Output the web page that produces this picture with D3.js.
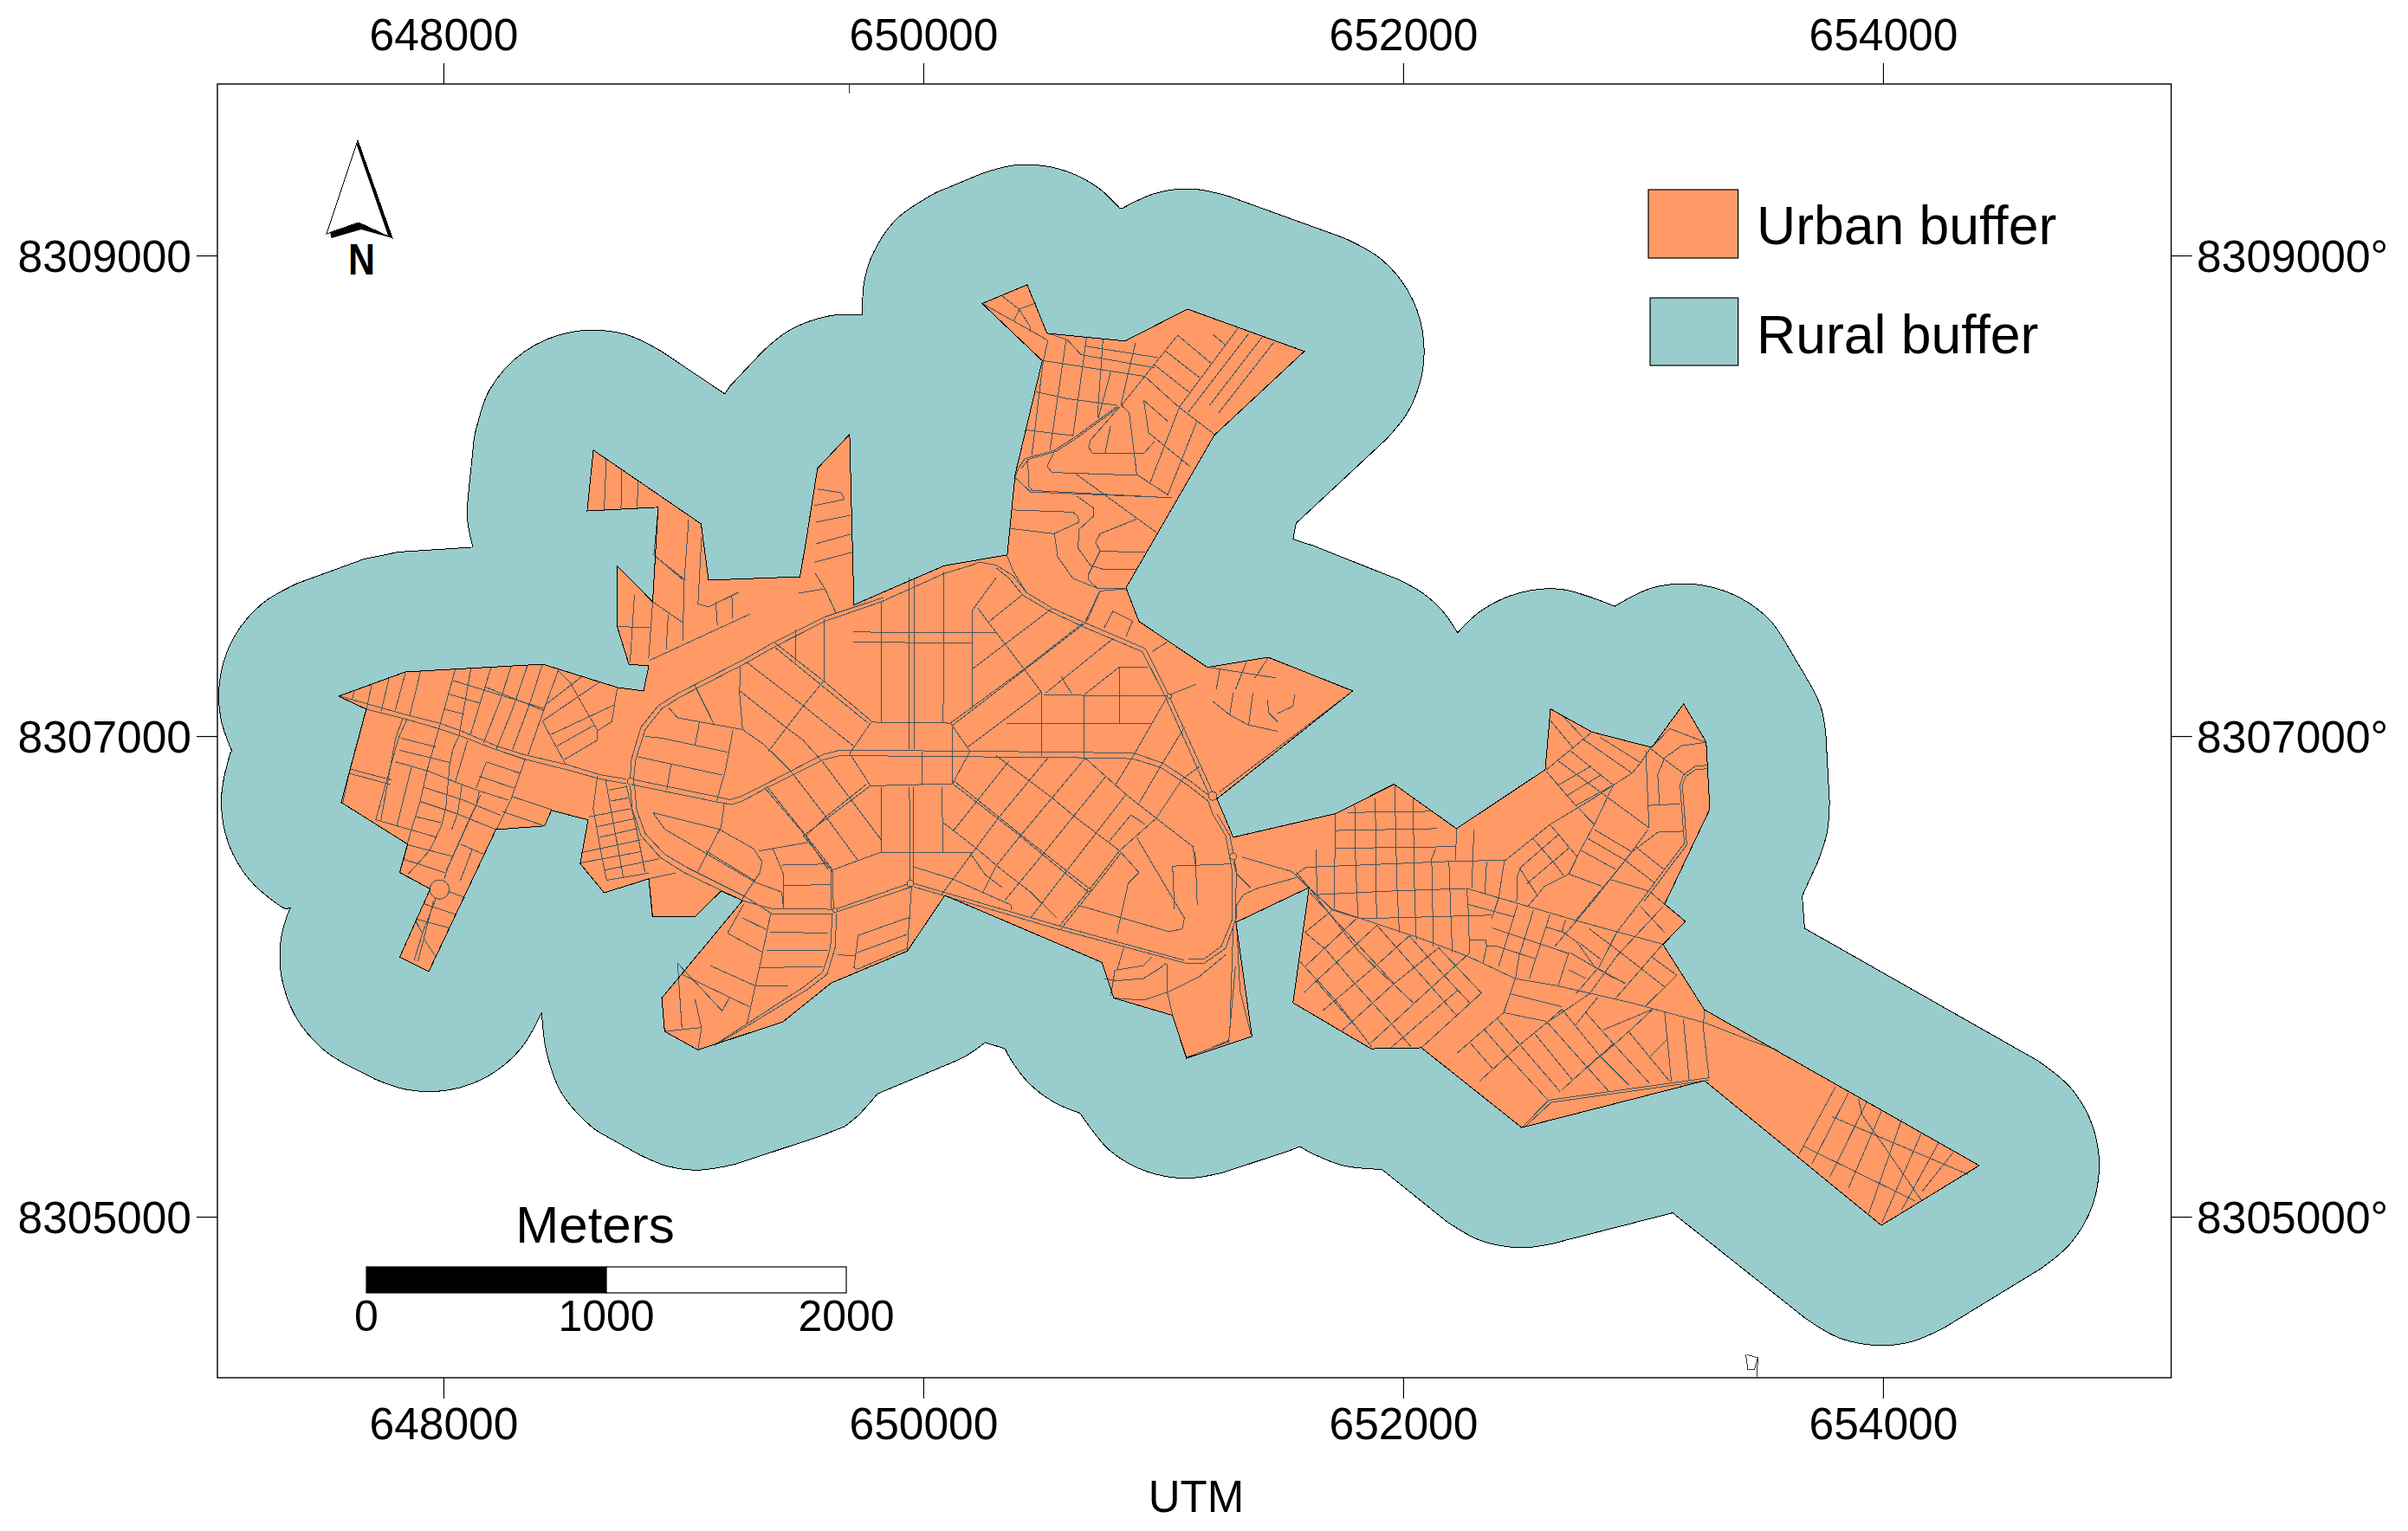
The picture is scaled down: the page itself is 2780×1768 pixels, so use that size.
<!DOCTYPE html>
<html>
<head>
<meta charset="utf-8">
<title>Urban and rural buffer map</title>
<script src="https://d3js.org/d3.v7.min.js"></script>
<style>
html, body { margin: 0; padding: 0; background: #fff; }
svg { display: block; }
text { font-family: "Liberation Sans", Arial, sans-serif; fill: #000; }
</style>
</head>
<body>
<svg id="map" width="2780" height="1768"></svg>
<script>
// all map points are [metres east of eastingBase, metres north of northingBase]
var eastingBase = 647000;
var northingBase = 8304000;

var eastingTicks = [648000, 650000, 652000, 654000];
var northingTicks = [8305000, 8307000, 8309000];
var scaleBarStops = [0, 1000, 2000];
var legendLabels = ["Urban buffer", "Rural buffer"];

var urbanOutline = [[563,3166],[841,3267],[1415,3299],[1726,3202],[1834,3188],[1856,3292],[1773,3299],[1724,3456],[1724,3709],[1872,3559],[1895,3952],[1599,3937],[1625,4190],[2074,3883],[2105,3649],[2486,3663],[2514,3829],[2559,4114],[2693,4256],[2711,3546],[3087,3709],[3350,3754],[3383,4089],[3496,4562],[3245,4800],[3433,4878],[3516,4676],[3841,4644],[4101,4777],[4588,4601],[4213,4252],[3845,3617],[3899,3477],[4184,3286],[4437,3328],[4790,3188],[4224,2739],[4292,2579],[4717,2677],[4962,2800],[5222,2615],[5592,2860],[5614,3113],[5787,3017],[6036,2953],[6169,3134],[6263,2975],[6278,2696],[6090,2301],[6176,2229],[6083,2133],[6256,1861],[7401,1213],[6993,964],[6256,1566],[5494,1371],[5076,1703],[4866,1699],[4541,1890],[4608,2370],[4303,2225],[4370,1750],[4097,1660],[4038,1838],[3794,1910],[3745,2058],[3090,2337],[2933,2105],[2617,1973],[2415,1811],[2061,1694],[1922,1771],[1910,1910],[2247,2316],[2157,2355],[2049,2249],[1872,2249],[1856,2406],[1670,2348],[1570,2469],[1603,2651],[1450,2691],[1422,2626],[1219,2611],[939,2020],[818,2081],[945,2364],[818,2432],[851,2550],[574,2724],[678,3112]];

// rural buffer edge: each run is one rounded stretch, straight edges lie between runs
var ruralBufferRuns = [
  [[118,2939],[71,3079],[71,3253],[130,3416],[242,3549],[392,3636]],
  [[670,3737],[813,3766]],
  [[1123,3786],[1101,3893],[1102,3988]],
  [[1128,4241],[1192,4440],[1338,4600],[1538,4682],[1754,4673],[1907,4602]],
  [[2173,4424],[2195,4457]],
  [[2329,4599],[2443,4689],[2606,4748],[2745,4753]],
  [[2747,4756],[2753,4887],[2792,5011],[2891,5154],[3054,5262]],
  [[3242,5340],[3389,5376],[3562,5361],[3720,5288],[3819,5196]],
  [[3829,5196],[3972,5260],[4118,5277],[4271,5247]],
  [[4758,5071],[4909,4984],[5021,4851],[5080,4688],[5080,4514],[5021,4351],[4929,4235]],
  [[4554,3886],[4541,3819]],
  [[4541,3819],[4623,3793]],
  [[4976,3653],[5077,3598],[5162,3523],[5227,3430]],
  [[5227,3430],[5327,3523],[5485,3596],[5658,3611],[5857,3550]],
  [[5882,3540],[6040,3617],[6213,3632],[6380,3587],[6523,3488],[6594,3389]],
  [[6688,3230],[6741,3121],[6762,3002]],
  [[6777,2723],[6767,2600],[6730,2481]],
  [[6663,2335],[6673,2200]],
  [[7647,1648],[7784,1534],[7871,1384],[7901,1213],[7871,1042],[7784,892],[7661,786]],
  [[7253,537],[7122,481],[6993,464],[6822,494],[6677,577]],
  [[6123,1016],[5618,887]],
  [[5618,887],[5494,871],[5323,901],[5183,979]],
  [[4910,1198],[4866,1199],[4745,1214],[4616,1266],[4570,1292]],
  [[4570,1292],[4526,1275]],
  [[4253,1185],[4097,1160],[3926,1190],[3776,1277],[3653,1431]],
  [[3653,1431],[3544,1477],[3440,1556],[3361,1660],[3341,1699]],
  [[3258,1725],[3183,1672],[3126,1644]],
  [[2810,1512],[2728,1421],[2671,1375]],
  [[2671,1375],[2572,1336]],
  [[2218,1219],[2061,1194],[1932,1211],[1819,1257]],
  [[1680,1334],[1614,1377],[1489,1521],[1430,1684],[1410,1845]],
  [[1409,1849],[1322,1699],[1189,1587],[1026,1528],[852,1528],[714,1573]],
  [[593,1634],[497,1698],[385,1831],[326,1994],[320,2125],[335,2210],[362,2286]],
  [[343,2280],[308,2301],[191,2403],[104,2553],[74,2724],[91,2853]],
  [[112,2930],[118,2939]]
];

var westRoads = [
  [[562,3168],[836,3091],[980,3055],[1065,3025],[1221,2959],[1335,2923],[1516,2881],[1654,2839],[1762,2821]],
  [[677,3112],[836,3073],[980,3031],[1065,3003],[1221,2943],[1335,2905],[1516,2860],[1654,2821],[1762,2802]],
  [[629,3190],[619,3151]],
  [[701,3214],[680,3115],[607,2845],[581,2724]],
  [[773,3238],[740,3103]],
  [[842,3265],[800,3109]],
  [[905,3271],[860,3087]],
  [[1049,3277],[986,3049],[932,2857],[902,2724],[866,2610],[818,2436]],
  [[1115,3283],[1065,3001],[1040,2947],[1026,2881],[1010,2700],[992,2628],[944,2526],[896,2472],[854,2427]],
  [[1199,3287],[1113,3007]],
  [[1101,2983],[1049,2808]],
  [[1283,3291],[1233,3139],[1167,2971]],
  [[1179,2893],[1137,2785]],
  [[1351,3295],[1287,3109],[1221,2947]],
  [[1413,3299],[1359,3133],[1287,2941]],
  [[1480,3277],[1425,3127],[1353,2923]],
  [[1341,2905],[1281,2736],[1221,2610]],
  [[1149,2767],[1137,2713],[1016,2448],[1004,2406]],
  [[1155,2754],[1107,2652],[1010,2436]],
  [[968,2322],[914,2184],[878,2068]],
  [[959,2316],[894,2064]],
  [[1040,3231],[1419,3115]],
  [[1173,3205],[1419,3106]],
  [[1022,3175],[1155,3136]],
  [[1007,3111],[1086,3091]],
  [[824,2991],[968,2955]],
  [[818,2941],[1028,2890]],
  [[800,2893],[938,2854],[1052,2808],[1149,2772],[1269,2734]],
  [[1149,2833],[1293,2784]],
  [[1179,2893],[1320,2845]],
  [[611,2863],[782,2818]],
  [[607,2845],[778,2799]],
  [[918,2787],[1077,2736],[1239,2670]],
  [[906,2727],[1059,2676],[1221,2610]],
  [[886,2664],[990,2640]],
  [[718,2652],[968,2580]],
  [[854,2547],[1040,2499]],
  [[836,2487],[1010,2430]],
  [[1071,2550],[1170,2508]],
  [[1287,2748],[1450,2694]],
  [[1245,2686],[1422,2626]],
  [[848,3070],[812,2989],[718,2652]],
  [[830,3073],[800,2989],[740,2652]],
  [[866,2869],[806,2628]],
  [[1119,2526],[1071,2400]],
  [[818,2433],[944,2364]],
  [[1026,2352],[1089,2328]],
  [[920,2302],[1049,2258]],
  [[890,2238],[1022,2202]],
  [[884,2232],[914,2174]],
  [[920,2154],[968,2082]],
  [[1077,2797],[1059,2676],[1034,2610]],
  [[1480,3271],[1528,3223],[1582,3127],[1642,3025],[1642,2983],[1504,2902]],
  [[1413,3061],[1510,2881]],
  [[1425,3130],[1576,3247]],
  [[1413,3063],[1648,3223]],
  [[1724,3199],[1702,3061],[1642,3022]],
  [[1449,3007],[1712,3130]],
  [[1474,2959],[1624,3043]],
  [[1642,2833],[1624,2700],[1654,2532],[1680,2400]],
  [[1676,2815],[1708,2640],[1750,2412]],
  [[1762,2796],[1804,2616],[1840,2436]],
  [[1688,2775],[1762,2790]],
  [[1696,2730],[1768,2742]],
  [[1606,2664],[1780,2698]],
  [[1636,2622],[1804,2658]],
  [[1648,2578],[1810,2616]],
  [[1570,2514],[1822,2568]],
  [[1570,2472],[1828,2520]],
  [[1672,2442],[1901,2490]],
  [[1680,2400],[1856,2430]],
  [[1852,2406],[1967,2430]],
  [[1856,2406],[1870,2250]],
  [[1724,3456],[1859,3451]],
  [[1796,3586],[1778,3306]],
  [[1872,3559],[1868,3496],[1855,3324]],
  [[1937,3505],[1928,3360]],
  [[2003,3649],[1998,3397]],
  [[2076,3829],[2061,3550],[2106,3537],[2229,3598]],
  [[1882,3748],[2009,3649]],
  [[1872,3559],[1998,3472]],
  [[2135,3559],[2142,3460]],
  [[2202,3586],[2206,3490]],
  [[1859,3315],[2278,3508]],
  [[2482,3595],[2590,3613],[2635,3514]],
  [[2550,3676],[2590,3613]],
  [[2559,4028],[2657,4013],[2671,3985],[2545,3959]],
  [[2552,3890],[2697,3919]],
  [[2552,3800],[2697,3840]],
  [[2545,3723],[2704,3765]],
  [[1679,4154],[1670,3942]],
  [[1744,4110],[1740,3946]],
  [[1812,4063],[1807,3948]],
  [[1895,3948],[1877,3754],[2000,3649]],
  [[2022,3901],[2004,3649]]
];

var centreRoads = [
  [[1778,2811],[1783,2901],[1823,3036],[1895,3126],[1976,3177],[2256,3321],[2373,3388],[2590,3496],[2834,3577]],
  [[1792,2811],[1801,2901],[1841,3027],[1910,3114],[1985,3162],[2265,3306],[2382,3373],[2590,3478],[2825,3559]],
  [[1778,2802],[1787,2694],[1823,2586],[1904,2495],[2003,2432],[2247,2315],[2364,2283],[2626,2279]],
  [[1796,2802],[1805,2694],[1841,2595],[1922,2508],[2021,2450],[2256,2333],[2368,2261],[2626,2261]],
  [[1787,2820],[2139,2748],[2193,2735],[2238,2748],[2346,2802],[2581,2923],[2653,2942],[3646,2933],[3881,2928],[3998,2888],[4115,2811],[4196,2748]],
  [[1787,2798],[2139,2726],[2202,2715],[2247,2730],[2346,2784],[2581,2901],[2653,2919],[3646,2910],[3872,2906],[3989,2870],[4106,2793],[4187,2730]],
  [[2783,3058],[3113,3054],[3195,2937],[3122,2802],[2780,2793],[2693,2928],[2783,3058]],
  [[2942,3658],[2942,2946]],
  [[2964,3658],[2964,2946]],
  [[2942,2787],[2946,2396]],
  [[2960,2787],[2960,2396]],
  [[2996,2937],[2996,2793]],
  [[3122,3036],[3122,2802]],
  [[2783,3063],[2590,3225],[2382,3388]],
  [[2770,3054],[2382,3369]],
  [[2780,2793],[2599,2658],[2500,2586]],
  [[2761,2798],[2590,2661],[2509,2582]],
  [[2500,2586],[2617,2441],[2617,2279]],
  [[2337,2787],[2509,2586],[2603,2445]],
  [[2346,2793],[2518,2577],[2621,2445],[2626,2279]],
  [[3113,3054],[3420,3279],[3664,3469]],
  [[3122,3045],[3673,3469]],
  [[3122,2802],[3402,2586],[3682,2355]],
  [[3131,2811],[3411,2586],[3691,2366]],
  [[3186,2955],[3492,3184]],
  [[3375,3667],[3429,3598],[3538,3532],[3673,3472],[3926,3364],[4025,3166],[4206,2766]],
  [[3357,3658],[3415,3586],[3529,3519],[3664,3456],[3913,3351],[4011,3159],[4191,2757]],
  [[3231,3724],[3303,3712],[3375,3667]],
  [[3303,3700],[3357,3658]],
  [[2825,3559],[3086,3676],[3204,3712],[3231,3724]],
  [[3303,3658],[3204,3523],[3204,3117]],
  [[2825,3559],[2825,3058]],
  [[3086,3685],[3083,3054]],
  [[2707,3433],[3303,3429]],
  [[2707,3391],[3204,3387]],
  [[2586,3487],[2586,3225]],
  [[2467,3442],[2467,3306]],
  [[2238,3288],[2234,3180],[2247,3027]],
  [[2265,3306],[2500,3126],[2707,2960]],
  [[2234,3189],[2428,3036],[2500,2982],[2581,2892],[2825,2568]],
  [[2581,3225],[2500,3126],[2355,2937]],
  [[2247,3027],[2337,2964],[2446,2856],[2599,2658],[2725,2486]],
  [[1940,3117],[1976,3076],[2247,3027]],
  [[2045,3216],[2130,3045]],
  [[1841,2999],[1913,2991],[2184,2933]],
  [[1805,2915],[2162,2838]],
  [[2207,3027],[2175,2856],[2139,2730]],
  [[2067,3058],[2049,2964]],
  [[1949,2883],[1931,2775]],
  [[2171,2721],[2157,2622],[2058,2432]],
  [[1873,2681],[2148,2613],[2292,2532],[2328,2477],[2319,2432],[2247,2324]],
  [[1873,2681],[1922,2613],[2301,2391],[2410,2351],[2418,2279]],
  [[2316,2522],[2527,2559]],
  [[2373,2532],[2418,2423],[2418,2279]],
  [[2410,2463],[2608,2468]],
  [[2418,2378],[2613,2382]],
  [[2094,2522],[2301,2396]],
  [[2617,2441],[2816,2514],[3205,2514]],
  [[2825,2787],[2825,2514]],
  [[3077,2787],[3083,2514]],
  [[2632,2279],[2942,2387]],
  [[2639,2268],[2951,2373]],
  [[2960,2387],[3556,2213],[4088,2067]],
  [[2960,2373],[3556,2198],[4097,2054],[4170,2054],[4260,2117],[4301,2234],[4305,2441],[4278,2586],[4224,2676]],
  [[4106,2072],[4170,2072],[4242,2126],[4287,2234],[4287,2441],[4260,2586],[4206,2676],[4187,2730]],
  [[2960,2456],[3123,2405],[3366,2297],[3366,2276]],
  [[2621,2261],[2613,2117],[2581,2018],[2500,1955],[2139,1721]],
  [[2639,2261],[2632,2117],[2599,2009],[2518,1946],[2130,1712]],
  [[2364,2261],[2319,2045],[2265,1802]],
  [[2252,2301],[2184,2180]],
  [[2247,2243],[2350,2193]],
  [[2184,2180],[2332,2099]],
  [[2361,2185],[2603,2180]],
  [[2346,2108],[2603,2108]],
  [[2319,2036],[2581,2041]],
  [[2112,2045],[2301,1960],[2437,1960]],
  [[1994,2009],[2274,1874]],
  [[1976,2055],[2162,1856],[2193,1915]],
  [[1976,2055],[1994,1784]],
  [[1922,1771],[2072,1787]],
  [[2049,1904],[2076,1784],[2061,1694]],
  [[2729,2171],[2933,2243],[2951,2243]],
  [[2729,2171],[2711,2036],[2725,2030],[2933,2117]],
  [[2725,2099],[2933,2175]],
  [[2933,2108],[2951,2373]],
  [[2644,2090],[2716,2085]],
  [[3077,2342],[3312,2658],[3520,2910]],
  [[3303,2459],[3402,2582],[3673,2906]],
  [[3339,2315],[3498,2508],[3758,2829]],
  [[3447,2243],[3592,2432],[3845,2757]],
  [[3565,2207],[3691,2360],[3818,2523]],
  [[3574,2198],[3700,2355],[3827,2517]],
  [[3126,2607],[3357,2896]],
  [[3303,2919],[3447,2810],[3538,2742],[3628,2667],[3818,2523],[3899,2432]],
  [[3673,2910],[3845,2757],[3971,2658]],
  [[3083,2640],[3222,2532],[3330,2441],[3447,2351],[3556,2243]],
  [[3195,2514],[3258,2423],[3330,2369]],
  [[3303,2459],[3249,2351]],
  [[4016,3162],[3881,2928],[3799,2793]],
  [[4088,3036],[3989,2874],[3899,2721]],
  [[4151,2874],[4079,2820],[3971,2658],[3818,2523]],
  [[3772,2559],[3866,2672],[3926,2631]],
  [[3890,2577],[4088,2243],[4079,2198],[4025,2186],[3642,2297]],
  [[3899,2432],[3854,2387],[3808,2180]],
  [[4039,2459],[4287,2468]],
  [[4039,2459],[4047,2279]],
  [[4133,2522],[4142,2297]],
  [[3971,2658],[4124,2540],[4133,2468]],
  [[3502,3171],[4016,3166]],
  [[3348,3054],[3953,3054]],
  [[3492,3184],[3492,2919]],
  [[3669,3171],[3669,2906]],
  [[3818,3288],[3818,3054]],
  [[3818,3288],[3935,3288]],
  [[3669,3171],[3818,3288]],
  [[3574,3247],[3619,3177]],
  [[3511,3180],[3790,3405]],
  [[3276,3478],[3411,3586]],
  [[3204,3279],[3538,3532]],
  [[3227,3532],[3420,3279],[3492,3184]],
  [[3754,3451],[3790,3519],[3872,3478],[3845,3414]],
  [[3673,3472],[3736,3604],[3845,3613]],
  [[3953,3351],[4016,3391]],
  [[4137,3216],[4025,3171]],
  [[4016,2054],[4016,1937],[4039,1838]],
  [[4025,1937],[4151,2000],[4260,2090]],
  [[3790,1910],[3917,1901],[4025,1937]],
  [[3835,2117],[3808,2027],[3917,2045],[3953,2081]],
  [[3808,1982],[3917,1991],[3989,2036],[4011,2054]],
  [[3799,2027],[3781,1919]],
  [[3754,1991],[3808,1982]]
];

var northRoads = [
  [[3246,4800],[3516,4649]],
  [[3326,4833],[3400,4776],[3375,4725]],
  [[3399,4776],[3447,4701],[3447,4683]],
  [[3400,4776],[3471,4803]],
  [[3520,4676],[3600,4649],[3657,4587]],
  [[3595,4647],[3528,4190]],
  [[3681,4661],[3624,4250]],
  [[3749,4653],[3726,4328]],
  [[3884,4635],[3861,4539],[3823,4376]],
  [[3520,4647],[3500,4563],[3452,4166]],
  [[3495,4563],[3923,4497],[4060,4668]],
  [[3673,4623],[3979,4575]],
  [[3657,4587],[3963,4533]],
  [[3468,4433],[3600,4404],[3810,4376]],
  [[3781,4515],[3729,4322]],
  [[3428,4274],[3624,4250]],
  [[4060,4668],[4200,4551]],
  [[4011,4601],[4152,4491]],
  [[3963,4545],[4108,4431]],
  [[3923,4497],[4064,4370],[4213,4256]],
  [[3919,4397],[4019,4310]],
  [[3919,4397],[3939,4262],[4113,4121]],
  [[3923,4497],[3826,4376],[3858,4346],[3890,4088],[4019,4004]],
  [[3818,4370],[3697,4232],[3689,4202],[3705,4176],[3919,4176],[3963,4226]],
  [[3781,4292],[3757,4176]],
  [[4310,4695],[4068,4370],[3947,4058]],
  [[4358,4677],[4103,4346]],
  [[4140,4310],[4019,4004]],
  [[4411,4659],[4193,4376]],
  [[4463,4641],[4232,4346]],
  [[4205,4673],[4258,4629]],
  [[3810,4373],[3632,4244],[3544,4188],[3423,4154],[3399,4118],[3383,4082]],
  [[3813,4368],[3636,4238],[3552,4184],[3439,4152],[3407,4112]],
  [[3549,4188],[3516,4124],[3536,4097],[3895,4085]],
  [[3436,4152],[3439,4040],[3455,4022],[4027,3992]],
  [[3383,4076],[3447,4016],[4035,3992]],
  [[3632,4094],[3971,3848]],
  [[3375,3941],[3624,3932],[3645,3914],[3649,3890],[3544,3842],[3362,3864]],
  [[3641,3998],[3708,3950],[3708,3914],[3649,3860],[3645,3782],[3697,3710],[3758,3692],[3887,3692]],
  [[3547,3842],[3560,3746],[3624,3656],[3729,3614],[3845,3616]],
  [[3887,3902],[3737,3842],[3718,3806],[3737,3770],[3926,3764]],
  [[3737,3770],[3689,3674],[3689,3650],[3726,3614]],
  [[3737,3604],[3681,3476]],
  [[3347,3756],[3375,3686],[3431,3596]]
];

var eastRoads = [
  [[4206,3145],[4277,3088],[4356,3046],[4477,3020]],
  [[4292,3181],[4277,3088]],
  [[4374,3181],[4356,3046]],
  [[4434,3152],[4441,3095],[4477,3060]],
  [[4548,3174],[4541,3124],[4477,3095]],
  [[4184,3287],[4471,3242]],
  [[4237,3280],[4221,3194]],
  [[4347,3308],[4301,3194]],
  [[4439,3328],[4382,3242]],
  [[4235,2768],[4734,3145]],
  [[4327,2497],[4534,2437],[4563,2411],[4606,2369],[4705,2280],[5062,2162],[5269,2084],[5469,1990],[5633,1963],[5947,1891],[6261,1806],[6443,1735],[6567,1691]],
  [[4556,2433],[4608,2369],[4705,2276],[4812,2243]],
  [[4556,2411],[4399,2369],[4334,2340],[4306,2297],[4303,2226]],
  [[4292,2483],[4306,2426],[4363,2369]],
  [[4548,2419],[4594,2454],[5183,2478],[5390,2483],[5426,2483]],
  [[4637,2528],[4641,2340]],
  [[4717,2675],[4713,2283]],
  [[4798,2711],[4802,2469],[4812,2241]],
  [[4884,2739],[4888,2312],[4891,2240]],
  [[4965,2799],[4974,2383],[4984,2183]],
  [[5041,2746],[5048,2326],[5055,2155]],
  [[5119,2483],[5126,2126]],
  [[5136,2533],[5116,2483]],
  [[5191,2476],[5198,2269],[5205,2098]],
  [[5222,2614],[5219,2483]],
  [[5295,2611],[5286,2369]],
  [[5265,2369],[5273,2255],[5276,2098],[5262,2084]],
  [[4717,2607],[5141,2615]],
  [[4717,2533],[5219,2540]],
  [[4770,2682],[5119,2687]],
  [[4641,2340],[4920,2354],[5262,2366]],
  [[4820,2240],[5369,2255]],
  [[5269,2300],[5462,2248]],
  [[5265,2366],[5719,2233],[6082,2134]],
  [[5276,2152],[5345,2152],[5348,2126],[5390,2126],[5554,2072]],
  [[5348,2126],[5333,2055]],
  [[5597,2205],[5669,2183],[5726,2141],[5797,2041],[5925,1970]],
  [[5373,2201],[5690,2095]],
  [[5398,2326],[5369,2240]],
  [[5422,2483],[5398,2326]],
  [[5348,2476],[5340,2340]],
  [[5490,2454],[5476,2419],[5473,2312]],
  [[5543,2276],[5483,2084],[5469,1996],[5419,1849]],
  [[5476,2297],[5398,2041]],
  [[5612,2258],[5526,1991]],
  [[5676,2233],[5662,2186]],
  [[5690,2098],[5647,1963]],
  [[5690,2027],[5761,1991]],
  [[5612,2632],[5426,2483]],
  [[5876,2796],[5790,2739],[5612,2632]],
  [[5876,2796],[5797,2632],[5747,2540],[5690,2426],[5590,2376],[5519,2290]],
  [[5876,2796],[5954,2846],[5990,2889],[6033,2953]],
  [[5612,2632],[5726,2497]],
  [[5540,2575],[5633,2468],[5669,2419]],
  [[5483,2454],[5562,2333]],
  [[5490,2454],[5647,2590]],
  [[5512,2383],[5690,2533]],
  [[5787,3017],[5597,2860]],
  [[5662,3088],[5747,2996]],
  [[5612,3067],[5704,2956]],
  [[5747,2989],[5954,2846]],
  [[5697,2939],[5876,2796]],
  [[5819,2996],[5990,2889]],
  [[5647,2896],[6025,2618]],
  [[5597,2853],[5719,2711],[5797,2632]],
  [[5647,2796],[5783,2875]],
  [[5683,2753],[5826,2839]],
  [[5719,2711],[5876,2796]],
  [[6011,2939],[6025,2618]],
  [[6033,2946],[6175,2839]],
  [[6111,3031],[6261,2974]],
  [[6111,3031],[6035,2953]],
  [[6261,2974],[6161,2960],[6090,2910],[6061,2839],[6068,2714]],
  [[6018,2711],[6154,2718]],
  [[6272,2879],[6218,2875],[6168,2839],[6154,2796],[6172,2554],[6075,2426],[5990,2312],[5890,2183],[5818,2041],[5719,1927]],
  [[6272,2865],[6218,2860],[6178,2832],[6164,2796],[6182,2547],[6090,2426],[6004,2312]],
  [[6061,2600],[6168,2604]],
  [[6061,2600],[5954,2518],[5861,2404],[5719,2233]],
  [[6021,2611],[5926,2483],[5790,2312],[5633,2126]],
  [[5797,2611],[5954,2518]],
  [[5768,2575],[5926,2483]],
  [[5740,2525],[5883,2447]],
  [[5690,2426],[5826,2376]],
  [[5861,2404],[6025,2355]],
  [[5968,2540],[6090,2443]],
  [[5926,2483],[6047,2390]],
  [[6025,2355],[6090,2300]],
  [[5990,2290],[6090,2183]],
  [[6082,2290],[5890,2084],[5776,1927],[5597,1806]],
  [[6082,2134],[5883,1906]],
  [[6032,2084],[6140,2005],[6011,1877]],
  [[5776,2198],[5926,2084],[6090,1956]],
  [[5697,2098],[5868,1998],[5926,1973]],
  [[5733,2141],[5826,2069]],
  [[5419,1849],[5597,1813]],
  [[5447,1927],[5662,1874]],
  [[5662,1863],[5597,1806],[5483,1713],[5319,1564]],
  [[5419,1849],[5226,1682]],
  [[5390,1827],[5654,1521]],
  [[5276,1727],[5376,1613]],
  [[5340,1777],[5433,1670],[5604,1485]],
  [[5547,1763],[5704,1571]],
  [[5597,1813],[5768,1621],[5858,1521]],
  [[5662,1863],[5819,1670],[5940,1549]],
  [[5719,1799],[5811,1913]],
  [[5762,1849],[5876,1720],[6025,1557]],
  [[5833,1777],[6040,1863]],
  [[5940,1770],[6111,1563]],
  [[5826,1670],[5940,1770],[6040,1863]],
  [[5768,1621],[5876,1720]],
  [[5662,1528],[5819,1670]],
  [[6025,1663],[6104,1742]],
  [[6090,1849],[6118,1563]],
  [[6168,1820],[6192,1571]],
  [[6257,1863],[6250,1792],[6275,1578]],
  [[5604,1485],[6275,1578]],
  [[5612,1475],[6275,1568]],
  [[5497,1374],[5604,1482]],
  [[5507,1374],[5612,1471]],
  [[4608,2369],[4820,2098],[5041,1891]],
  [[4613,2347],[4962,1970]],
  [[4591,2183],[4677,2112],[4798,1970],[4948,1806],[5034,1706]],
  [[4570,2062],[4720,1899],[4869,1706]],
  [[4634,1984],[4791,1806]],
  [[4591,2183],[4705,2276]],
  [[4591,2041],[4805,2240]],
  [[4588,1934],[4641,1984],[4891,2212]],
  [[4663,1856],[4891,2048],[5026,2169]],
  [[4748,1777],[4962,1970],[5148,2119]],
  [[4862,1720],[5119,1955],[5262,2084]],
  [[4948,1702],[5226,1941]],
  [[5076,1703],[5326,1931],[5269,1991]],
  [[4891,2212],[5119,1955],[5219,1841]],
  [[5026,2169],[5176,1998],[5276,1891]],
  [[5148,2119],[5326,1931]],
  [[4277,1756],[4292,2212]],
  [[4306,2212],[4320,1941],[4366,1756]],
  [[4206,1706],[4277,1735]],
  [[4099,1664],[4273,1728],[4301,2041]]
];

var tailRoads = [
  [[6801,1539],[6650,1259]],
  [[6857,1517],[6705,1222]],
  [[6934,1480],[6779,1167]],
  [[6995,1443],[6857,1121]],
  [[7078,1406],[6940,1011]],
  [[7161,1351],[6995,974]],
  [[7230,1305],[7078,1029]],
  [[7293,1268],[7161,1103]],
  [[6663,1296],[7133,1066]],
  [[6898,1489],[6912,1425],[7009,1287],[7161,1066]],
  [[6788,1416],[7354,1176]]
];

// [easting offset, northing offset, radius in metres]
var roundabouts = [[1780,2812,14],[984,2362,40],[2946,2387,14],[4206,2751,18],[4292,2499,14],[2632,2275,9],[4025,3166,9],[3691,2360,7]];

var strayMark = [[6428,428],[6437,364],[6464,364],[6478,413],[6434,426]];
var strayTail = [[6478,413],[6475,334]];
var topMark = [[2693,5714],[2690,5675]];

var urbanColor = "#ff9966";
var ruralColor = "#99cccc";
var roadColor = "#46555f";

var svg = d3.select("#map");

var x = d3.scaleLinear().domain([647058, 655201]).range([251, 2506.6]);
var y = d3.scaleLinear().domain([8304330, 8309713.5]).range([1591, 97]);

var line = d3.line()
  .x(function(d) { return x(eastingBase + d[0]); })
  .y(function(d) { return y(northingBase + d[1]); });
var smoothLine = d3.line()
  .x(function(d) { return x(eastingBase + d[0]); })
  .y(function(d) { return y(northingBase + d[1]); })
  .curve(d3.curveCatmullRom.alpha(0.5));

// frame
svg.append("rect").attr("x", x.range()[0]).attr("y", y.range()[1])
  .attr("width", x.range()[1] - x.range()[0]).attr("height", y.range()[0] - y.range()[1])
  .attr("fill", "#fff");

// rural buffer: join the runs into one closed shape, keeping the corners sharp
var ruralPath = ruralBufferRuns.map(function(run, i) {
  var d = smoothLine(run);
  return i === 0 ? d : d.replace("M", "L");
}).join("") + "Z";
svg.append("path").attr("d", ruralPath)
  .attr("fill", ruralColor).attr("stroke", "#000").attr("stroke-width", 1)
  .attr("shape-rendering", "crispEdges");

// urban area
svg.append("path").attr("d", line(urbanOutline) + "Z").attr("fill", urbanColor)
  .attr("shape-rendering", "crispEdges");

var allRoads = westRoads.concat(centreRoads, northRoads, eastRoads, tailRoads);
svg.append("g").attr("shape-rendering", "crispEdges")
  .selectAll("path").data(allRoads).join("path")
  .attr("d", line)
  .attr("fill", "none")
  .attr("stroke", roadColor)
  .attr("stroke-width", 1);

svg.append("g").attr("shape-rendering", "crispEdges")
  .selectAll("circle").data(roundabouts).join("circle")
  .attr("cx", function(d) { return x(eastingBase + d[0]); })
  .attr("cy", function(d) { return y(northingBase + d[1]); })
  .attr("r", function(d) { return x(eastingBase + d[2]) - x(eastingBase); })
  .attr("fill", urbanColor)
  .attr("stroke", roadColor)
  .attr("stroke-width", 1);

svg.append("path").attr("d", line(urbanOutline) + "Z")
  .attr("fill", "none").attr("stroke", "#000").attr("stroke-width", 1)
  .attr("shape-rendering", "crispEdges");

[strayMark, strayTail, topMark].forEach(function(mark) {
  svg.append("path").attr("d", line(mark)).attr("fill", "none")
    .attr("stroke", "#333").attr("stroke-width", 1).attr("shape-rendering", "crispEdges");
});

svg.append("rect").attr("x", x.range()[0]).attr("y", y.range()[1])
  .attr("width", x.range()[1] - x.range()[0]).attr("height", y.range()[0] - y.range()[1])
  .attr("fill", "none").attr("stroke", "#000").attr("stroke-width", 1.4);

// axes on all four sides
var tickLen = 24;
var tickFont = 51.5;
function styleAxis(g) {
  g.select(".domain").remove();
  g.selectAll("line").attr("stroke", "#000").attr("stroke-width", 1.2);
  g.selectAll("text").attr("font-size", tickFont).attr("font-family", "Liberation Sans").attr("fill", "#000");
}
svg.append("g").attr("transform", "translate(0," + y.range()[1] + ")")
  .call(d3.axisTop(x).tickValues(eastingTicks).tickFormat(d3.format("d")).tickSize(tickLen).tickPadding(15.5))
  .call(styleAxis);
svg.append("g").attr("transform", "translate(0," + y.range()[0] + ")")
  .call(d3.axisBottom(x).tickValues(eastingTicks).tickFormat(d3.format("d")).tickSize(tickLen).tickPadding(10))
  .call(styleAxis)
  .selectAll("text").attr("dy", "0.71em");
svg.append("g").attr("transform", "translate(" + x.range()[0] + ",0)")
  .call(d3.axisLeft(y).tickValues(northingTicks).tickFormat(d3.format("d")).tickSize(tickLen).tickPadding(6))
  .call(styleAxis)
  .selectAll("text").attr("dy", "0.35em");
svg.append("g").attr("transform", "translate(" + x.range()[1] + ",0)")
  .call(d3.axisRight(y).tickValues(northingTicks).tickFormat(function(d) { return d3.format("d")(d) + "\u00b0"; }).tickSize(tickLen).tickPadding(5.5))
  .call(styleAxis)
  .selectAll("text").attr("dy", "0.35em");

svg.append("text").attr("x", 1381).attr("y", 1746).attr("text-anchor", "middle")
  .attr("font-size", 51).text("UTM");

// legend
var legendSwatches = [
  { fill: urbanColor, x: 1903, y: 219, w: 103.6, h: 79, textY: 282 },
  { fill: ruralColor, x: 1905, y: 344, w: 101.6, h: 78, textY: 408 }
];
legendSwatches.forEach(function(s, i) {
  svg.append("rect").attr("x", s.x).attr("y", s.y).attr("width", s.w).attr("height", s.h)
    .attr("fill", s.fill).attr("stroke", "#000").attr("stroke-width", 1.2);
  svg.append("text").attr("x", 2028).attr("y", s.textY).attr("font-size", 62.5).text(legendLabels[i]);
});

// scale bar, sized with the map's own x scale
var barStart = 647679;
var barX = d3.scaleLinear().domain([0, 2000]).range([x(barStart), x(barStart + 2000)]);
svg.selectAll(".bar").data([[0, 1000, "#000"], [1000, 2000, "#fff"]]).join("rect")
  .attr("class", "bar")
  .attr("x", function(d) { return barX(d[0]); })
  .attr("y", 1463)
  .attr("width", function(d) { return barX(d[1]) - barX(d[0]); })
  .attr("height", 30)
  .attr("fill", function(d) { return d[2]; })
  .attr("stroke", "#000").attr("stroke-width", 1.2);
svg.selectAll(".barlabel").data(scaleBarStops).join("text")
  .attr("class", "barlabel")
  .attr("x", function(d) { return barX(d); })
  .attr("y", 1537)
  .attr("text-anchor", "middle")
  .attr("font-size", 50)
  .text(function(d) { return d; });
svg.append("text").attr("x", 687).attr("y", 1435).attr("text-anchor", "middle")
  .attr("font-size", 60).text("Meters");

// north arrow
var arrowOutline = [[413,162],[377,270],[414,257],[453,275]];
var arrowBase = [[382.6,275],[381,268],[414,257],[453,275],[417,265]];
var arrowEdge = [[413,162],[453,275],[448,272],[412,168]];
var plainLine = d3.line();
svg.append("path").attr("d", plainLine(arrowOutline) + "Z").attr("fill", "#fff").attr("stroke", "#000").attr("stroke-width", 1).attr("shape-rendering", "crispEdges");
svg.append("path").attr("d", plainLine(arrowBase) + "Z").attr("fill", "#000");
svg.append("path").attr("d", plainLine(arrowEdge) + "Z").attr("fill", "#000");
svg.append("text").attr("x", 402).attr("y", 317).attr("font-size", 50).attr("font-weight", "bold")
  .attr("textLength", 31).attr("lengthAdjust", "spacingAndGlyphs").text("N");
</script>
</body>
</html>
